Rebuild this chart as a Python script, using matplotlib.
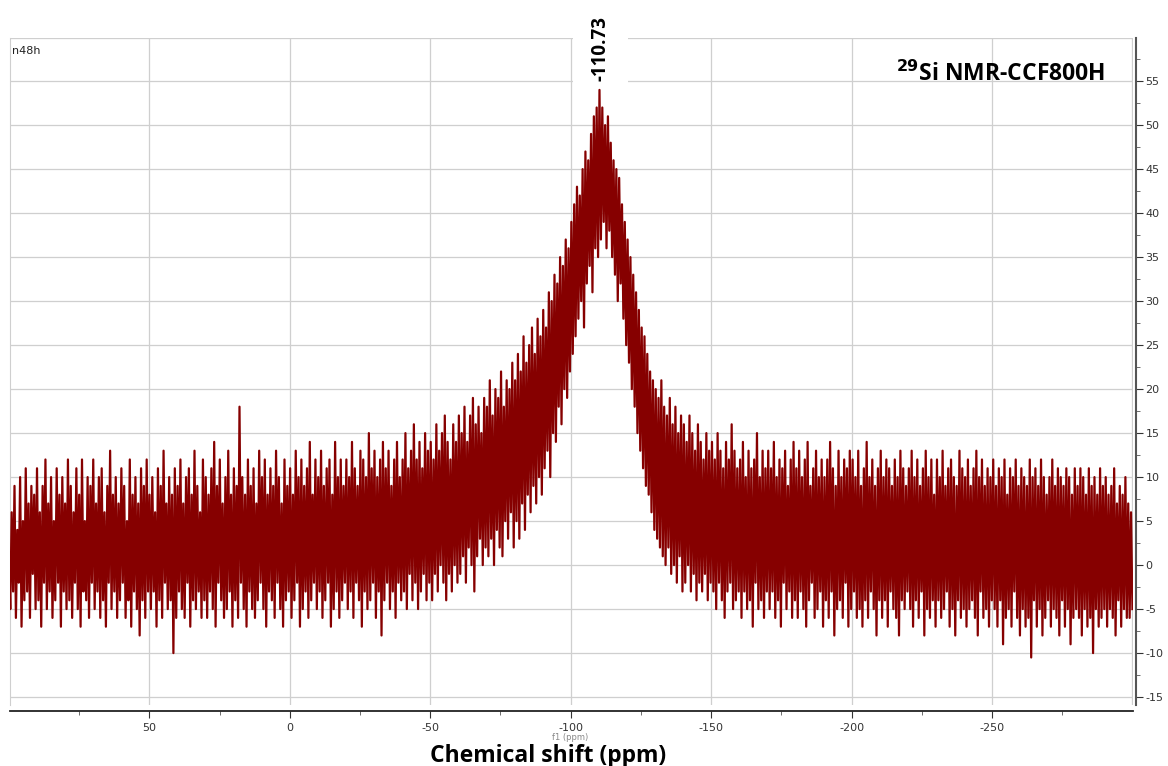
import numpy as np
import matplotlib
matplotlib.use("Agg")
import matplotlib.pyplot as plt
from matplotlib.patches import Rectangle

plt.rcParams['axes.unicode_minus'] = False

# 29Si NMR spectrum (alternating spike tops / bottoms),
# evenly sampled from 100 ppm down to -300 ppm, one row per 10 ppm
intensity = [
    1, -5, 6, -3, 9, -6, 4, -2, 10, -7, 5, -4, 11, -3, 7, -6, 9, -1, 8, -5,
    11, -4, 6, -7, 9, -2, 12, -5, 7, -3, 10, -6, 5, -4, 11, -2, 8, -7, 10, -3,
    7, -5, 12, -4, 9, -6, 6, -2, 11, -5, 8, -7, 12, -3, 5, -4, 10, -6, 9, -2,
    12, -5, 7, -3, 10, -6, 11, -4, 6, -7, 9, -2, 13, -5, 8, -3, 10, -6, 7, -4,
    11, -2, 9, -6, 5, -4, 12, -7, 8, -3, 10, -5, 7, -8, 11, -4, 9, -6, 12, -3,
    8, -5, 10, -3, 6, -7, 11, -4, 9, -6, 13, -2, 7, -5, 10, -4, 8, -10, 11, -6,
    9, -3, 12, -5, 7, -6, 10, -2, 11, -7, 8, -4, 13, -5, 9, -3, 6, -6, 12, -4,
    10, -6, 8, -3, 11, -5, 14, -7, 9, -2, 12, -4, 7, -6, 10, -5, 13, -3, 8, -7,
    11, -4, 9, -6, 18, -2, 10, -5, 8, -7, 12, -3, 9, -5, 11, -6, 7, -4, 13, -2,
    10, -5, 12, -7, 8, -3, 11, -4, 9, -6, 13, -2, 10, -5, 7, -7, 12, -4, 9, -3,
    11, -6, 8, -4, 13, -2, 10, -7, 12, -5, 9, -3, 11, -6, 14, -4, 8, -2, 12, -5,
    10, -3, 13, -6, 9, -4, 11, -2, 12, -7, 8, -5, 14, -3, 10, -6, 12, -4, 9, -2,
    12, -5, 10, -3, 14, -6, 11, -2, 9, -4, 13, -7, 12, -3, 10, -5, 15, -4, 11, -2,
    13, -6, 10, -3, 12, -8, 14, -4, 11, -2, 13, -5, 9, -3, 12, -6, 14, -2, 10, -4,
    12, -3, 15, -5, 11, -1, 13, -4, 16, -2, 12, -5, 14, -3, 11, -1, 15, -4, 13, -2,
    14, -4, 12, -1, 16, -3, 13, 0, 15, -2, 17, -4, 14, -1, 12, -3, 16, 0, 14, -2,
    17, -1, 15, 1, 18, -2, 14, 2, 17, 0, 19, -3, 16, 1, 18, 3, 15, 0, 19, 2,
    18, 1, 21, 3, 17, 0, 20, 4, 19, 2, 22, 1, 18, 5, 21, 3, 20, 6, 23, 2,
    21, 5, 24, 3, 22, 7, 26, 4, 23, 8, 25, 6, 27, 9, 24, 7, 28, 10, 26, 8,
    29, 11, 27, 13, 31, 10, 30, 15, 33, 14, 32, 18, 35, 16, 34, 20, 37, 19, 36, 22,
    39, 24, 41, 26, 43, 28, 42, 30, 45, 27, 47, 32, 46, 34, 49, 31, 51, 36, 52, 35,
    54, 37, 52, 39, 50, 36, 51, 38, 48, 35, 46, 33, 45, 30, 44, 32, 41, 28, 39, 25,
    37, 23, 35, 20, 33, 18, 31, 15, 29, 13, 27, 11, 26, 9, 24, 8, 22, 6, 21, 4,
    20, 3, 19, 2, 21, 1, 18, 0, 17, 2, 19, -1, 16, 0, 18, -2, 15, 1, 17, -3,
    16, -2, 14, 0, 17, -3, 15, -1, 13, -4, 16, -2, 14, -3, 12, -1, 15, -4, 13, -2,
    14, -3, 12, -5, 15, -2, 13, -4, 11, -6, 14, -3, 12, -2, 16, -5, 13, -4, 11, -3,
    12, -6, 14, -3, 10, -5, 13, -4, 11, -7, 12, -2, 15, -5, 10, -4, 13, -6, 11, -3,
    13, -5, 11, -3, 14, -6, 10, -4, 12, -7, 11, -2, 13, -5, 9, -3, 12, -6, 14, -4,
    11, -6, 13, -3, 10, -5, 12, -7, 14, -4, 9, -2, 11, -6, 13, -5, 10, -3, 12, -7,
    10, -4, 12, -6, 14, -3, 11, -8, 9, -5, 13, -4, 10, -6, 12, -2, 11, -7, 13, -5,
    12, -3, 10, -6, 13, -5, 9, -7, 11, -4, 14, -6, 10, -3, 12, -5, 9, -8, 11, -4,
    13, -6, 10, -4, 12, -7, 11, -3, 9, -5, 12, -6, 10, -8, 13, -4, 11, -5, 9, -3,
    11, -5, 13, -7, 10, -4, 12, -6, 9, -3, 11, -8, 13, -5, 10, -6, 12, -4, 8, -7,
    12, -4, 10, -6, 13, -5, 9, -3, 11, -7, 12, -5, 10, -8, 9, -4, 13, -6, 11, -5,
    10, -7, 12, -5, 9, -4, 11, -6, 13, -8, 10, -3, 12, -6, 9, -5, 11, -7, 10, -4,
    12, -5, 9, -7, 11, -4, 10, -9, 12, -6, 8, -5, 11, -7, 10, -3, 12, -6, 9, -8,
    11, -5, 10, -7, 9, -6, 12, -10.5, 10, -4, 11, -7, 9, -5, 12, -8, 10, -6, 8, -4,
    10, -7, 12, -5, 9, -6, 11, -8, 10, -4, 9, -7, 11, -5, 10, -9, 8, -6, 11, -5,
    9, -6, 11, -8, 10, -5, 8, -7, 11, -6, 9, -10, 10, -5, 8, -7, 11, -6, 9, -5,
    10, -7, 8, -5, 9, -6, 11, -8, 7, -4, 9, -7, 8, -5, 10, -6, 7, -6, 6, -5,
]
ppm_start, ppm_end = 100, -300

peak_ppm = -110.73
x_ticks = [50, 0, -50, -100, -150, -200, -250]
y_ticks = list(range(-15, 60, 5))

ppm = np.linspace(ppm_start, ppm_end, len(intensity))

fig = plt.figure(figsize=(11.68, 7.66), dpi=100)
ax = fig.add_axes([10 / 1168, 1 - 705 / 766, 1123 / 1168, 667 / 766])

ax.plot(ppm, intensity, color='#860000', lw=1.6, zorder=3)

ax.set_xlim(99.6, -300.2)
ax.set_ylim(-15.9, 59.9)

# grid
grid_c = '#cfcfcf'
for v in y_ticks + [59.9]:
    ax.axhline(v, color=grid_c, lw=0.9, zorder=0.5)
for v in x_ticks:
    ax.axvline(v, color=grid_c, lw=0.9, zorder=0.5)
ax.axvline(-300, color=grid_c, lw=0.9, zorder=0.5)

# axes: right y axis, bottom x axis
ax.spines['top'].set_visible(False)
ax.spines['left'].set_color(grid_c)
ax.spines['bottom'].set_position(('outward', 4))
ax.spines['bottom'].set_linewidth(1.3)
ax.spines['bottom'].set_color('#222222')
ax.spines['right'].set_position(('outward', 2))
ax.spines['right'].set_linewidth(1.5)
ax.spines['right'].set_color('#555555')

ax.yaxis.tick_right()
ax.set_yticks(y_ticks)
ax.set_yticks([v + 2.5 for v in y_ticks], minor=True)
ax.set_xticks(x_ticks)
ax.set_xticks([v + 25 for v in x_ticks] + [-275], minor=True)
ax.tick_params(axis='both', which='major', labelsize=8, colors='#333333', length=5)
ax.tick_params(axis='both', which='minor', colors='#555555', length=3)
ax.tick_params(axis='x', pad=4)
ax.tick_params(axis='y', pad=2)

# peak label with a white patch over the grid
ax.add_patch(Rectangle((peak_ppm - 9.8, 54.0), 19.6, 12, facecolor='white',
                       edgecolor='none', clip_on=False, zorder=1))
ax.text(peak_ppm, 58.7, '-110.73', rotation=90, ha='center', va='center',
        fontsize=13.5, fontweight='bold', family='Open Sans', clip_on=False, zorder=4)

ax.text(0.002, 0.988, 'n48h', transform=ax.transAxes, ha='left', va='top',
        fontsize=8, color='#222222')
fig.text(1105 / 1168, 1 - 74 / 766, r'$^{\mathbf{29}}$Si NMR-CCF800H', ha='right', va='center',
         fontsize=16.5, fontweight='bold', family='Open Sans')

fig.text(570 / 1168, 1 - 737 / 766, 'f1 (ppm)', ha='center', va='center',
         fontsize=6, color='#888888')
fig.text(548 / 1168, 1 - 756 / 766, 'Chemical shift (ppm)', ha='center', va='center',
         fontsize=16.5, fontweight='bold', family='Open Sans')

fig.savefig('out.png', dpi=100)
